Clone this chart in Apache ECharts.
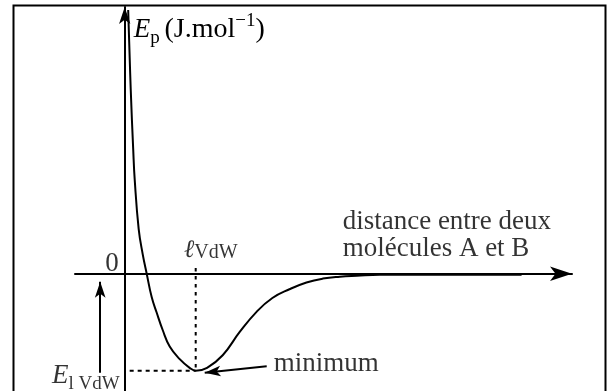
<!DOCTYPE html>
<html>
<head>
<meta charset="utf-8">
<script src="https://cdn.jsdelivr.net/npm/echarts@6/dist/echarts.min.js"></script>
<style>
  html, body { margin: 0; padding: 0; background: #fff; }
  #main { width: 611px; height: 391px; }
</style>
</head>
<body>
<div id="main"></div>
<script>
// Ep curve (x in units of lVdW, y in units of |E_lVdW|)
var distance = [0.049, 0.085, 0.12, 0.141, 0.197, 0.254, 0.31, 0.38, 0.45, 0.535, 0.634, 0.775, 0.915, 1.0,
                1.16, 1.38, 1.62, 1.86, 2.08, 2.32, 2.56, 2.79, 3.03, 3.27, 3.59, 5.59];
var energy = [2.72, 1.90, 1.28, 0.97, 0.46, 0.20, 0, -0.24, -0.40, -0.58, -0.75, -0.88, -0.97, -1.0,
              -0.97, -0.84, -0.60, -0.39, -0.25, -0.16, -0.09, -0.05, -0.03, -0.02, -0.01, -0.01];
var lVdW = 1;     // distance at the minimum
var ElVdW = -1;   // energy at the minimum

var font = "'Liberation Serif', 'Times New Roman', serif";
var chart = echarts.init(document.getElementById('main'));

var curve = distance.map(function (d, i) { return [d, energy[i]]; });

var txt = { fontFamily: font, color: '#000' };
function lbl(o) {
    return Object.assign({ show: true, position: [0, 0], fontFamily: font, fontSize: 27, color: '#000' }, o);
}

var labels = [
    { value: [0, 0], label: lbl({ formatter: '0', align: 'right', verticalAlign: 'middle', offset: [-6, -10] }) },
    { value: [lVdW, 0], label: lbl({
        formatter: '{l|ℓ}{s|VdW}', align: 'center', verticalAlign: 'bottom', offset: [15, -11],
        rich: {
            l: Object.assign({ fontSize: 25, fontStyle: 'italic', lineHeight: 25, verticalAlign: 'bottom' }, txt),
            s: Object.assign({ fontSize: 20, lineHeight: 20, verticalAlign: 'bottom' }, txt)
        } }) },
    { value: [3.07, 0], label: lbl({
        formatter: 'distance entre deux\nmolécules A et B', lineHeight: 27,
        align: 'left', verticalAlign: 'bottom', offset: [0, -11] }) },
    { value: [2.0, -0.954], label: lbl({ formatter: 'minimum', align: 'left', verticalAlign: 'middle', offset: [7, -2] }) },
    { value: [0, ElVdW], label: lbl({
        formatter: '{e|E}{s|l VdW}', align: 'right', verticalAlign: 'top', offset: [-5, -13],
        rich: {
            e: Object.assign({ fontSize: 27, fontStyle: 'italic', lineHeight: 36 }, txt),
            s: Object.assign({ fontSize: 19, lineHeight: 19, verticalAlign: 'bottom' }, txt)
        } }) }
];

var option = {
    backgroundColor: '#fff',
    animation: false,
    graphic: [{
        type: 'rect',
        shape: { x: 13.5, y: 5.5, width: 592, height: 420 },
        style: { fill: 'none', stroke: '#000', lineWidth: 2 },
        silent: true
    }],
    grid: { left: 75, top: 7, width: 497, height: 388, outerBoundsMode: 'none', containLabel: false },
    xAxis: {
        type: 'value', min: -0.7, max: 6.3,
        axisLine: { onZero: true, symbol: ['none', 'arrow'], symbolSize: [11, 22],
            lineStyle: { color: '#000', width: 2 } },
        axisTick: { show: false }, axisLabel: { show: false }, splitLine: { show: false }
    },
    yAxis: {
        type: 'value', min: -1.25, max: 2.75,
        name: '{e|E}{p|p }{t|(J.mol}{s|−1}{t|)}',
        nameLocation: 'end', nameGap: -23,
        nameTextStyle: {
            align: 'left', verticalAlign: 'middle', padding: [0, 0, 0, 9],
            rich: {
                e: Object.assign({ fontSize: 27, fontStyle: 'italic', lineHeight: 36 }, txt),
                p: Object.assign({ fontSize: 19, lineHeight: 19, verticalAlign: 'bottom' }, txt),
                t: Object.assign({ fontSize: 28, lineHeight: 36 }, txt),
                s: Object.assign({ fontSize: 19, lineHeight: 30, verticalAlign: 'top' }, txt)
            }
        },
        axisLine: { onZero: true, symbol: ['none', 'arrow'], symbolSize: [8.5, 17],
            lineStyle: { color: '#000', width: 2 } },
        axisTick: { show: false }, axisLabel: { show: false }, splitLine: { show: false }
    },
    series: [
        {
            name: 'Ep', type: 'line', data: curve, showSymbol: false,
            smooth: 0.45, clip: false, silent: true, z: 4,
            lineStyle: { color: '#000', width: 2 }
        },
        {
            type: 'line', data: [[lVdW, 0.06], [lVdW, ElVdW]], showSymbol: false, silent: true,
            lineStyle: { color: '#000', width: 2, type: [3.5, 4.5] }
        },
        {
            type: 'line', data: [[0.07, ElVdW], [lVdW, ElVdW]], showSymbol: false, silent: true,
            lineStyle: { color: '#000', width: 2, type: [4, 4] }
        },
        {
            type: 'scatter', data: labels, symbolSize: 0, clip: false, silent: true,
            itemStyle: { color: 'transparent' },
            emphasis: { disabled: true },
            markLine: {
                silent: true, animation: false,
                symbol: ['none', 'arrow'], symbolSize: [8, 16],
                label: { show: false },
                emphasis: { disabled: true },
                lineStyle: { color: '#000', width: 2, type: 'solid' },
                data: [
                    [{ coord: [-0.345, ElVdW - 0.02] }, { coord: [-0.345, -0.082] }],
                    [{ coord: [2.0, -0.954] }, { coord: [1.127, -1.02] }]
                ]
            }
        }
    ]
};

chart.setOption(option);
window.onresize = function () { chart.resize(); };
</script>
</body>
</html>
